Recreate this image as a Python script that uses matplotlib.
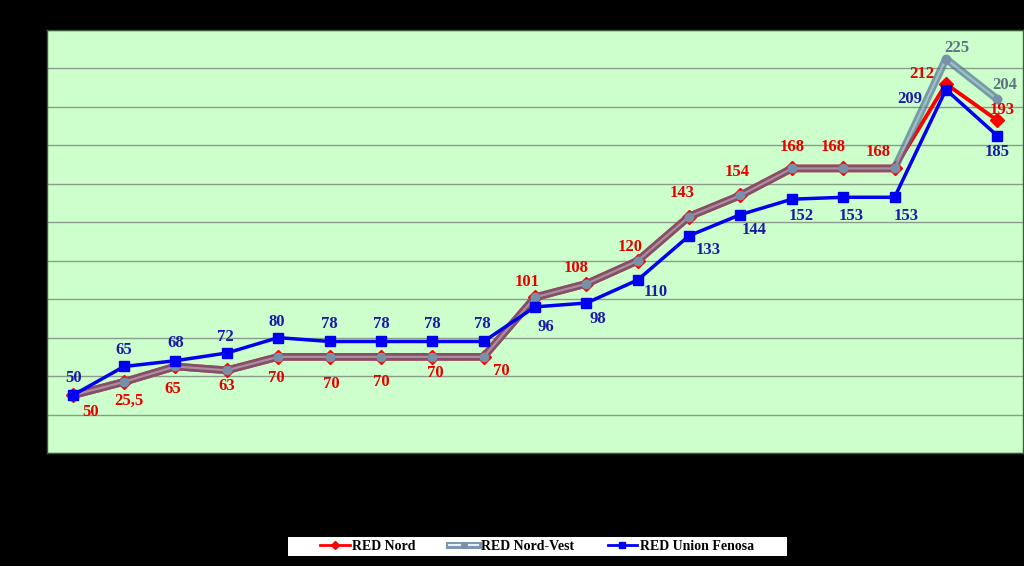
import matplotlib
matplotlib.use('Agg')
import matplotlib.pyplot as plt
import numpy as np
from matplotlib.lines import Line2D
from matplotlib.patches import Rectangle
from matplotlib.legend_handler import HandlerTuple

# Data (x labels are not visible there)
periods = list(range(1, 20))
nord_values = [50, 57, 65, 63, 70, 70, 70, 70, 70, 101, 108, 120, 143, 154, 168, 168, 168, 212, 193]
nord_labels = ['50', '25,5', '65', '63', '70', '70', '70', '70', '70', '101', '108', '120',
               '143', '154', '168', '168', '168', '212', '193']
nordvest_values = [50, 57, 65, 63, 70, 70, 70, 70, 70, 101, 108, 120, 143, 154, 168, 168, 168, 225, 204]
nordvest_labels = [''] * 17 + ['225', '204']
fenosa_values = [50, 65, 68, 72, 80, 78, 78, 78, 78, 96, 98, 110, 133, 144, 152, 153, 153, 209, 185]
fenosa_labels = ['50', '65', '68', '72', '80', '78', '78', '78', '78', '96', '98', '110',
                 '133', '144', '152', '153', '153', '209', '185']

# label offsets in pixels (layout only)
nord_off = [(18, -17), (5, -19), (-3, -23), (0, -16), (-2, -21), (2, -27), (0, -25), (3, -16),
            (18, -14), (-8, 15), (-10, 16), (-8, 14), (-7, 24), (-3, 23), (0, 21), (-10, 21),
            (-16, 16), (-24, 10), (5, 10)]
nordvest_off = [(0, 0)] * 17 + [(11, 11), (7, 14)]
fenosa_off = [(1, 17), (0, 16), (0, 18), (-1, 16), (-1, 16), (0, 17), (0, 17), (0, 17), (-1, 17),
              (11, -20), (11, -16), (18, -12), (19, -14), (14, -15), (9, -17), (8, -19),
              (12, -19), (-36, -9), (0, -16)]

RED = '#ff0000'
NV_OUT = '#4f7396'
NV_MARK = '#7890a8'
BLUE = '#0000f0'
SERIF = 'Liberation Serif'

fig = plt.figure(figsize=(10.24, 5.66), dpi=100, facecolor='black')
ax = fig.add_axes([47 / 1024, 1 - 453 / 566, 976 / 1024, 423 / 566])
ax.set_facecolor('#ccffcc')

x = np.arange(len(periods))
nord = np.array(nord_values, dtype=float)
nv = np.array(nordvest_values, dtype=float)

# where both RED series coincide the picture shows one broad maroon band
shared = np.where(nord == nv, nord, np.nan)
ax.plot(x, shared, color=RED, lw=5.5, solid_capstyle='round', zorder=3)
ax.plot(x, nord, color=RED, lw=2.8, marker='D', ms=7, mfc=RED, mec=RED, zorder=3)
ax.plot(x, nv, color=NV_OUT, lw=5.5, alpha=0.7, solid_joinstyle='round', zorder=4)
ax.plot(x, nv, color='white', lw=1.6, alpha=0.35, zorder=4)
ax.plot(x, nv, ls='none', marker='o', ms=6, mfc=NV_MARK, mec=NV_MARK, zorder=5)
ax.plot(x, fenosa_values, color=BLUE, lw=2.5, marker='s', ms=6.5, mfc=BLUE, mec=BLUE, zorder=6)

def put_labels(values, labels, offsets, color):
    for i, (v, lab) in enumerate(zip(values, labels)):
        if not lab:
            continue
        ax.annotate(lab, (i, v), xytext=offsets[i], textcoords='offset pixels',
                    ha='center', va='center', color=color, fontsize=12,
                    fontweight='bold', family=SERIF, zorder=8)

put_labels(nord_values, nord_labels, nord_off, '#e60000')
put_labels(nordvest_values, nordvest_labels, nordvest_off, '#5f7384')
put_labels(fenosa_values, fenosa_labels, fenosa_off, '#1a1aa8')

ax.set_xlim(-0.5, len(periods) - 0.5)
ax.set_ylim(20, 240)
ax.set_yticks(range(20, 241, 20))
ax.yaxis.grid(True, color='#8c9c8c', lw=1)
ax.set_axisbelow(True)
ax.tick_params(left=False, bottom=False, labelleft=False, labelbottom=False)
for s in ax.spines.values():
    s.set_color('#3a5a3a')
    s.set_linewidth(1)

# legend
fig.patches.append(Rectangle((288 / 1024, 1 - 556 / 566), 499 / 1024, 19 / 566,
                             transform=fig.transFigure, facecolor='white', edgecolor='none'))
h_nord = Line2D([], [], color=RED, lw=2, marker='D', ms=4, mfc=RED, mec=RED)
h_nv = (Line2D([], [], color=NV_OUT, lw=5, alpha=0.75),
        Line2D([], [], color='#e8f0f8', lw=1.5),
        Line2D([], [], ls='none', marker='o', ms=4, mfc=NV_MARK, mec=NV_MARK))
h_fen = Line2D([], [], color=BLUE, lw=2, marker='s', ms=4.5, mfc=BLUE, mec=BLUE)
fig.legend([h_nord, h_nv, h_fen], ['RED Nord', 'RED Nord-Vest', 'RED Union Fenosa'],
           handler_map={tuple: HandlerTuple(ndivide=1, pad=0)},
           loc='center', bbox_to_anchor=(537 / 1024, 1 - 546.5 / 566), ncol=3,
           frameon=False, handlelength=2.1, handletextpad=0.2, columnspacing=2.4,
           prop={'family': SERIF, 'weight': 'bold', 'size': 10})

fig.savefig('out.png', dpi=100, facecolor='black')
